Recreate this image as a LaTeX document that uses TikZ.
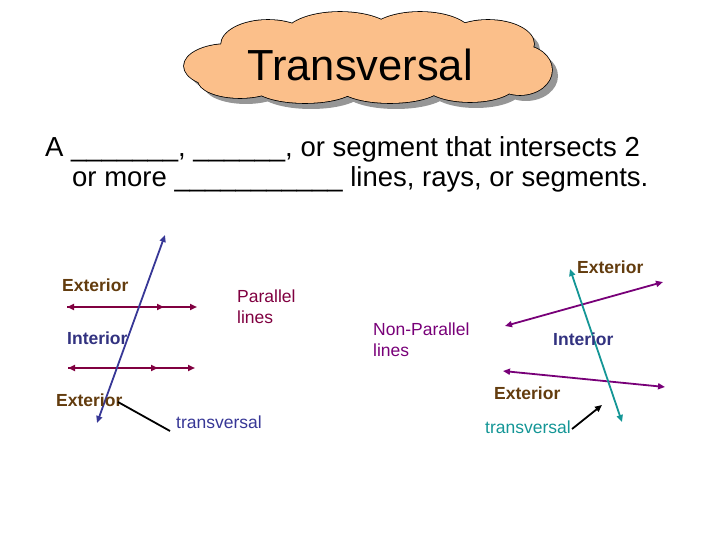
\documentclass[tikz,border=0pt]{standalone}
\usepackage{fontspec}
\setmainfont{Liberation Sans}
\usetikzlibrary{arrows.meta}
\definecolor{extBrown}{RGB}{99,60,14}
\definecolor{intBlue}{RGB}{50,50,128}
\definecolor{transBlue}{RGB}{55,55,150}
\definecolor{parMaroon}{RGB}{128,0,64}
\definecolor{nonparPurple}{RGB}{120,0,120}
\definecolor{transTeal}{RGB}{20,150,150}
\definecolor{cloudPeach}{RGB}{251,191,138}
\definecolor{shadowGray}{RGB}{150,150,150}

% puffs of the title cloud: x/y/x radius/y radius
\def\cloudpuffs{228/66/44/22, 268/45/47/25, 340/36/56/24, 420/35/52/23,
  488/44/46/24, 520/70/32/25, 470/84/46/18, 390/86/52/17, 305/86/52/17,
  240/80/42/18, 368/60/150/30}

\begin{document}
\begin{tikzpicture}[
  x=1pt,y=-1pt,
  every node/.style={inner sep=0pt},
  region/.style={font=\fontsize{17.5}{20}\selectfont\bfseries,text=#1,anchor=base west},
  note/.style={font=\fontsize{17.5}{20.5}\selectfont,text=#1,anchor=north west,align=left},
  body/.style={font=\fontsize{27.5}{31}\selectfont,anchor=base west},
  line/.style={draw=#1,line width=1.8pt,{Triangle[length=7pt,width=6pt]}-{Triangle[length=7pt,width=6pt]}},
  ray/.style={draw=#1,line width=1.8pt,-{Triangle[length=7pt,width=6pt]}},
  pointer/.style={draw=black,line width=1.8pt}
]
  \useasboundingbox (0,0) rectangle (720,540);

  % title cloud
  \fill[shadowGray] \foreach \cx/\cy/\rx/\ry in \cloudpuffs
    {(\cx+6,\cy+6) ellipse [x radius=\rx pt,y radius=\ry pt]};
  \draw[black,line width=1.6pt] \foreach \cx/\cy/\rx/\ry in \cloudpuffs
    {(\cx,\cy) ellipse [x radius=\rx pt,y radius=\ry pt]};
  \fill[cloudPeach] \foreach \cx/\cy/\rx/\ry in \cloudpuffs
    {(\cx,\cy) ellipse [x radius=\rx pt,y radius=\ry pt]};
  \node[font=\fontsize{43.5}{48}\selectfont,anchor=base west] (title) at (247,81) {Transversal};

  % definition
  \node[body] (body1) at (45,157) {A \_\_\_\_\_\_\_, \_\_\_\_\_\_, or segment that intersects 2};
  \node[body] (body2) at (72,187) {or more \_\_\_\_\_\_\_\_\_\_\_ lines, rays, or segments.};

  % parallel lines
  \coordinate (ta) at (165,235);
  \coordinate (tb) at (97,423);
  \coordinate (pa) at (67,307);
  \coordinate (pm) at (164,307);
  \coordinate (pb) at (197,307);
  \coordinate (qa) at (68,368);
  \coordinate (qm) at (158,368);
  \coordinate (qb) at (195,368);

  \draw[line=parMaroon] (pa) -- (pb);
  \draw[ray=parMaroon] (pa) -- (pm);
  \draw[line=parMaroon] (qa) -- (qb);
  \draw[ray=parMaroon] (qa) -- (qm);
  \draw[line=transBlue] (ta) -- (tb);

  \node[region=extBrown] (ext1) at (62,291) {Exterior};
  \node[region=intBlue] (int1) at (67,344) {Interior};
  \node[region=extBrown] (ext2) at (56,406) {Exterior};
  \node[note=parMaroon] (parlbl) at (237,290) {Parallel\\lines};
  \node[note=transBlue,anchor=base west] (trlbl1) at (176,428) {transversal};

  \coordinate (pt1) at (118,402);
  \coordinate (pt2) at (170,431);
  \draw[pointer] (pt1) -- (pt2);

  % non-parallel lines
  \coordinate (ua) at (505,326);
  \coordinate (ub) at (663,282);
  \coordinate (va) at (503,371);
  \coordinate (vb) at (665,387);
  \coordinate (sa) at (570,269);
  \coordinate (sb) at (622,422);

  \draw[line=nonparPurple] (ua) -- (ub);
  \draw[line=nonparPurple] (va) -- (vb);
  \draw[line=transTeal] (sa) -- (sb);

  \node[region=extBrown] (ext3) at (577,273) {Exterior};
  \node[region=intBlue] (int2) at (553,345) {Interior};
  \node[region=extBrown] (ext4) at (494,399) {Exterior};
  \node[note=nonparPurple] (nonparlbl) at (373,323) {Non-Parallel\\lines};
  \node[note=transTeal,anchor=base west] (trlbl2) at (485,433) {transversal};

  \coordinate (pt3) at (572,429);
  \coordinate (pt4) at (602,405);
  \draw[pointer,-{Triangle[length=7pt,width=6pt]}] (pt3) -- (pt4);
\end{tikzpicture}
\end{document}
